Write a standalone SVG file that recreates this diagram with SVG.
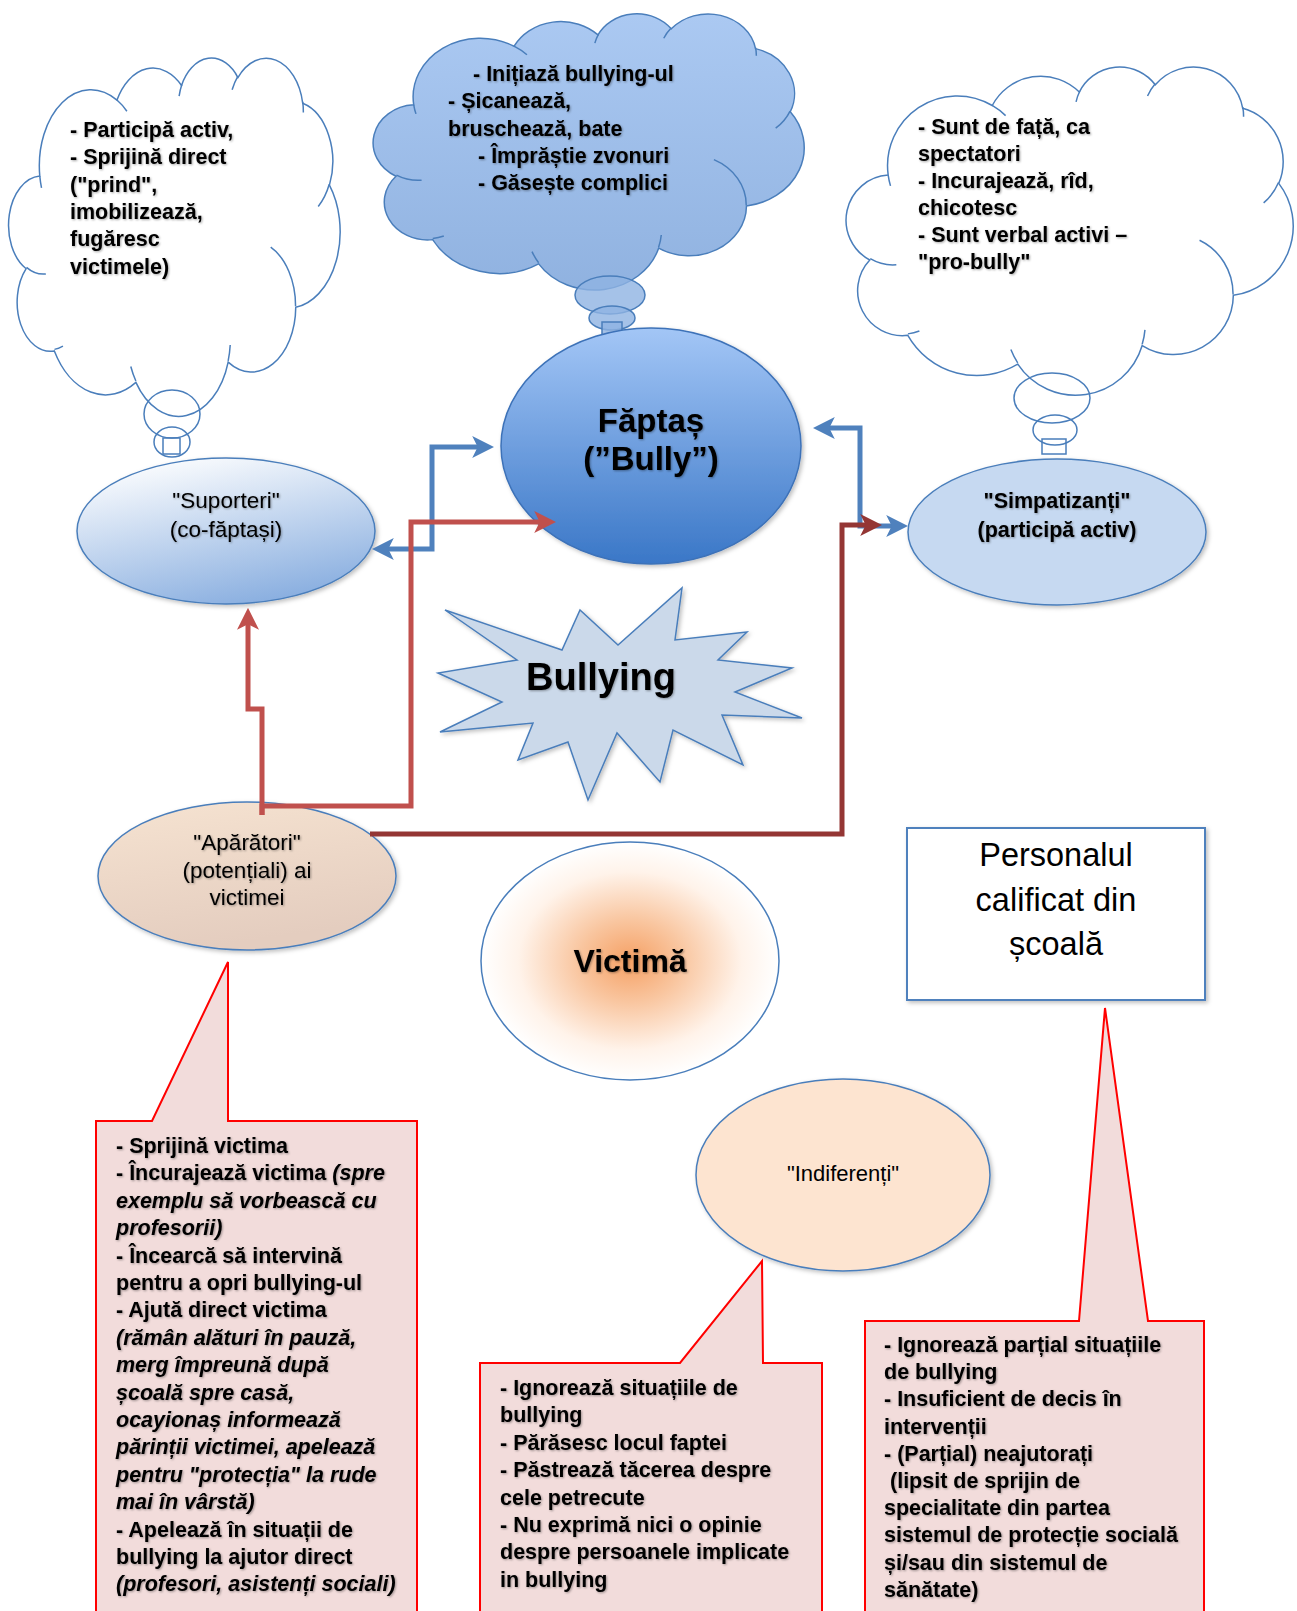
<svg xmlns="http://www.w3.org/2000/svg" xmlns:xlink="http://www.w3.org/1999/xlink" width="1297" height="1611" viewBox="0 0 1297 1611">
  <defs>
    <style>
      .t { font-family: "Liberation Sans", Arial, sans-serif; fill: #000; }
      .b { font-weight: bold; font-size: 21.5px; }
      .i { font-style: italic; }
      .lbl { font-size: 22.5px; text-anchor: middle; }
      .mid { text-anchor: middle; }
      .cloud-edge { stroke: #4a7ebb; stroke-width: 1.5; }
      .bubble { fill: none; stroke: #4a7ebb; stroke-width: 1.5; }
      .node-edge { stroke: #4a7ebb; stroke-width: 1.5; }
      .callout { fill: #f2dcdb; stroke: #ff0000; stroke-width: 2; stroke-linejoin: miter; }
      .conn { fill: none; stroke-width: 5; stroke-linejoin: miter; }
      .blue { stroke: #4f81bd; }
      .red { stroke: #c0504d; }
      .dark { stroke: #943634; }
    </style>

    <!-- cloud outline in a 1000 x 1000 box -->
    <path id="cloudOutline" vector-effect="non-scaling-stroke"
      d="M90.3,332.6 A156.3,212.7 0 0 1 324.2,120.4 A123.4,168.2 0 0 1 519.8,79.5 A101,137.6 0 0 1 690.6,57.4 A112.4,152.7 0 0 1 887,129.1 A123.4,168.4 0 0 1 968,357.9 A156.8,213.4 0 0 1 865.9,699.2 A133.9,182.1 0 0 1 661.1,852.2 A156.3,213.3 0 0 1 381.5,908.9 A178.7,244.1 0 0 1 134.4,821.1 A100.9,137 0 0 1 48.9,591.4 A100.6,137.6 0 0 1 90.3,332.6 Z"/>
    <!-- short inner arcs of the cloud -->
    <path id="cloudInner" vector-effect="non-scaling-stroke" fill="none"
      d="M108.6,605.9 A100.6,137.6 0 0 1 50,587.5 M160.4,807.8 A100.9,137 0 0 1 134.7,816.7 M381.4,904.9 A156.3,213.3 0 0 1 366,864.6 M667.3,804.4 A156.3,213.3 0 0 1 661.1,848.6 M790,531.3 A133.9,182.1 0 0 1 865.3,696.5 M967.5,355.4 A123.4,168.4 0 0 1 934,417.4 M887.1,125.6 A112.4,152.7 0 0 1 888.9,154.9 M673.1,91.5 A112.4,152.7 0 0 1 690.3,54.1 M512.5,109.3 A101,137.6 0 0 1 520.8,77.1 M324.1,120.2 A156.3,212.7 0 0 1 354.2,151.4 M95.5,365.5 A156.3,212.7 0 0 1 90.3,332.6"/>

    <linearGradient id="gTopCloud" x1="0" y1="0" x2="0" y2="1">
      <stop offset="0" stop-color="#abc9f2"/>
      <stop offset="1" stop-color="#90b2e0"/>
    </linearGradient>
    <linearGradient id="gBully" x1="0" y1="0" x2="0" y2="1">
      <stop offset="0" stop-color="#a3c6f6"/>
      <stop offset="1" stop-color="#3a77c7"/>
    </linearGradient>
    <linearGradient id="gSupport" x1="0.2" y1="0" x2="0.6" y2="1">
      <stop offset="0" stop-color="#ffffff"/>
      <stop offset="1" stop-color="#8aafe0"/>
    </linearGradient>
    <linearGradient id="gDefend" x1="0" y1="0" x2="0.3" y2="1">
      <stop offset="0" stop-color="#f6e3d1"/>
      <stop offset="1" stop-color="#e4cdbf"/>
    </linearGradient>
    <radialGradient id="gVictim" cx="0.5" cy="0.5" r="0.5">
      <stop offset="0" stop-color="#f5a064"/>
      <stop offset="0.35" stop-color="#f9c6a0"/>
      <stop offset="0.75" stop-color="#fff3ea"/>
      <stop offset="1" stop-color="#ffffff"/>
    </radialGradient>

    <filter id="shapeShadow" x="-10%" y="-10%" width="125%" height="125%">
      <feDropShadow dx="2" dy="2" stdDeviation="2" flood-color="#000" flood-opacity="0.25"/>
    </filter>
    <filter id="textShadow" x="-5%" y="-30%" width="110%" height="160%">
      <feDropShadow dx="1" dy="1" stdDeviation="0.8" flood-color="#000" flood-opacity="0.35"/>
    </filter>

    <marker id="arrowBlue" viewBox="0 0 10 10" refX="4" refY="5" markerWidth="4.4" markerHeight="4.4" orient="auto-start-reverse">
      <path d="M0,0 L10,5 L0,10 L2.5,5 Z" fill="#4f81bd"/>
    </marker>
    <marker id="arrowRed" viewBox="0 0 10 10" refX="4" refY="5" markerWidth="4.4" markerHeight="4.4" orient="auto-start-reverse">
      <path d="M0,0 L10,5 L0,10 L2.5,5 Z" fill="#c0504d"/>
    </marker>
    <marker id="arrowDark" viewBox="0 0 10 10" refX="4" refY="5" markerWidth="4.4" markerHeight="4.4" orient="auto-start-reverse">
      <path d="M0,0 L10,5 L0,10 L2.5,5 Z" fill="#943634"/>
    </marker>
  </defs>

  <rect x="0" y="0" width="1297" height="1611" fill="#ffffff"/>

  <!-- thought cloud of the supporters -->
  <g id="cloud-suporteri">
    <use xlink:href="#cloudOutline" class="cloud-edge" fill="#ffffff" transform="translate(10,57) scale(0.33,0.358)"/>
    <use xlink:href="#cloudInner" class="cloud-edge" transform="translate(10,57) scale(0.33,0.358)"/>
    <ellipse class="bubble" cx="172" cy="414" rx="28" ry="24"/>
    <ellipse class="bubble" cx="172" cy="442" rx="18" ry="15"/>
    <rect class="bubble" x="163" y="438" width="17" height="16"/>
    <g class="t b" filter="url(#textShadow)">
      <text x="70" y="137">- Participă activ,</text>
      <text x="70" y="164.3">- Sprijină direct</text>
      <text x="70" y="191.6">("prind",</text>
      <text x="70" y="218.9">imobilizează,</text>
      <text x="70" y="246.2">fugăresc</text>
      <text x="70" y="273.5">victimele)</text>
    </g>
  </g>

  <!-- thought cloud of the bully -->
  <g id="cloud-faptas">
    <use xlink:href="#cloudOutline" class="cloud-edge" fill="url(#gTopCloud)" transform="translate(375,13) scale(0.429,0.276)"/>
    <use xlink:href="#cloudInner" class="cloud-edge" transform="translate(375,13) scale(0.429,0.276)"/>
    <ellipse cx="610" cy="295" rx="35" ry="19" fill="#8fb3e2" fill-opacity="0.8" class="cloud-edge"/>
    <ellipse cx="612" cy="318" rx="23" ry="12" fill="#8fb3e2" fill-opacity="0.8" class="cloud-edge"/>
    <rect x="602" y="322" width="20" height="14" fill="#8fb3e2" fill-opacity="0.8" class="cloud-edge"/>
    <g class="t b" filter="url(#textShadow)">
      <text x="473" y="81">- Inițiază bullying-ul</text>
      <text x="448" y="108">- Șicanează,</text>
      <text x="448" y="136">bruschează, bate</text>
      <text x="478" y="163">- Împrăștie zvonuri</text>
      <text x="478" y="190">- Găsește complici</text>
    </g>
  </g>

  <!-- thought cloud of the sympathisers -->
  <g id="cloud-simpatizanti">
    <use xlink:href="#cloudOutline" class="cloud-edge" fill="#ffffff" transform="translate(848,66) scale(0.445,0.328)"/>
    <use xlink:href="#cloudInner" class="cloud-edge" transform="translate(848,66) scale(0.445,0.328)"/>
    <ellipse class="bubble" cx="1052" cy="398" rx="38" ry="25"/>
    <ellipse class="bubble" cx="1055" cy="430" rx="22" ry="15"/>
    <rect class="bubble" x="1042" y="439" width="24" height="15"/>
    <g class="t b" filter="url(#textShadow)">
      <text x="918" y="134">- Sunt de față, ca</text>
      <text x="918" y="161">spectatori</text>
      <text x="918" y="188">- Incurajează, rîd,</text>
      <text x="918" y="215">chicotesc</text>
      <text x="918" y="242">- Sunt verbal activi –</text>
      <text x="918" y="269">"pro-bully"</text>
    </g>
  </g>

  <g id="node-faptas">
    <ellipse cx="651" cy="446" rx="150" ry="118" fill="url(#gBully)" stroke="#3d72b8" stroke-width="1.5" filter="url(#shapeShadow)"/>
    <g class="t mid" font-weight="bold" font-size="33" filter="url(#textShadow)">
      <text x="651" y="432">Făptaș</text>
      <text x="651" y="470">(”Bully”)</text>
    </g>
  </g>

  <g id="node-suporteri">
    <ellipse cx="226" cy="531" rx="149" ry="73" fill="url(#gSupport)" class="node-edge" filter="url(#shapeShadow)"/>
    <g class="t lbl" filter="url(#textShadow)">
      <text x="226" y="508">"Suporteri"</text>
      <text x="226" y="537">(co-făptași)</text>
    </g>
  </g>

  <g id="node-simpatizanti">
    <ellipse cx="1057" cy="532" rx="149" ry="73" fill="#c6d9f1" class="node-edge" filter="url(#shapeShadow)"/>
    <g class="t mid" font-weight="bold" font-size="21.5" filter="url(#textShadow)">
      <text x="1057" y="508">"Simpatizanți"</text>
      <text x="1057" y="537">(participă activ)</text>
    </g>
  </g>

  <g id="node-bullying">
    <polygon points="445,610 562,650 580,610 618,645 682,588 675,640 747,632 718,660 792,668 735,692 802,718 722,715 743,765 673,730 660,782 617,733 588,800 568,742 518,760 533,723 440,732 502,702 438,673 517,660"
      fill="#cbd9ea" stroke="#4a7ebb" stroke-width="1.5" stroke-linejoin="miter" filter="url(#shapeShadow)"/>
    <text class="t mid" x="601" y="690" font-weight="bold" font-size="38" filter="url(#textShadow)">Bullying</text>
  </g>

  <g id="node-aparatori">
    <ellipse cx="247" cy="876" rx="149" ry="74" fill="url(#gDefend)" class="node-edge" filter="url(#shapeShadow)"/>
    <g class="t lbl" filter="url(#textShadow)">
      <text x="247" y="850">"Apărători"</text>
      <text x="247" y="878">(potențiali) ai</text>
      <text x="247" y="905">victimei</text>
    </g>
  </g>

  <g id="node-victima">
    <ellipse cx="630" cy="961" rx="149" ry="119" fill="url(#gVictim)" class="node-edge"/>
    <text class="t mid" x="630" y="972" font-weight="bold" font-size="32" filter="url(#textShadow)">Victimă</text>
  </g>

  <g id="node-personal">
    <rect x="907" y="828" width="298" height="172" fill="#ffffff" stroke="#4f81bd" stroke-width="2" filter="url(#shapeShadow)"/>
    <g class="t mid" font-size="32.5">
      <text x="1056" y="866">Personalul</text>
      <text x="1056" y="911">calificat din</text>
      <text x="1056" y="955">școală</text>
    </g>
  </g>

  <g id="node-indiferenti">
    <ellipse cx="843" cy="1175" rx="147" ry="96" fill="#fde4d0" class="node-edge" filter="url(#shapeShadow)"/>
    <text class="t mid" x="843" y="1181" font-size="22">"Indiferenți"</text>
  </g>

  <!-- callout describing the defenders -->
  <g id="callout-aparatori">
    <path class="callout" d="M96,1121 H152 L228,962 V1121 H417 V1616 H96 Z"/>
    <g class="t b" filter="url(#textShadow)">
      <text x="116" y="1153">- Sprijină victima</text>
      <text x="116" y="1180.4">- Încurajează victima <tspan class="i">(spre</tspan></text>
      <text x="116" y="1207.8" class="i">exemplu să vorbească cu</text>
      <text x="116" y="1235.2" class="i">profesorii)</text>
      <text x="116" y="1262.6">- Încearcă să intervină</text>
      <text x="116" y="1290">pentru a opri bullying-ul</text>
      <text x="116" y="1317.4">- Ajută direct victima</text>
      <text x="116" y="1344.8" class="i">(rămân alături în pauză,</text>
      <text x="116" y="1372.2" class="i">merg împreună după</text>
      <text x="116" y="1399.6" class="i">școală spre casă,</text>
      <text x="116" y="1427" class="i">ocayionaș informează</text>
      <text x="116" y="1454.4" class="i">părinții victimei, apelează</text>
      <text x="116" y="1481.8" class="i">pentru "protecția" la rude</text>
      <text x="116" y="1509.2" class="i">mai în vârstă)</text>
      <text x="116" y="1536.6">- Apelează în situații de</text>
      <text x="116" y="1564">bullying la ajutor direct</text>
      <text x="116" y="1591.4" class="i">(profesori, asistenți sociali)</text>
    </g>
  </g>

  <!-- callout describing the indifferent ones -->
  <g id="callout-indiferenti">
    <path class="callout" d="M480,1363 H680 L762,1261 L763,1363 H822 V1616 H480 Z"/>
    <g class="t b" filter="url(#textShadow)">
      <text x="500" y="1395">- Ignorează situațiile de</text>
      <text x="500" y="1422.4">bullying</text>
      <text x="500" y="1449.8">- Părăsesc locul faptei</text>
      <text x="500" y="1477.2">- Păstrează tăcerea despre</text>
      <text x="500" y="1504.6">cele petrecute</text>
      <text x="500" y="1532">- Nu exprimă nici o opinie</text>
      <text x="500" y="1559.4">despre persoanele implicate</text>
      <text x="500" y="1586.8">in bullying</text>
    </g>
  </g>

  <!-- callout describing the school staff -->
  <g id="callout-personal">
    <path class="callout" d="M865,1321 H1079 L1105,1008 L1148,1321 H1204 V1616 H865 Z"/>
    <g class="t b" filter="url(#textShadow)">
      <text x="884" y="1352">- Ignorează parțial situațiile</text>
      <text x="884" y="1379.2">de bullying</text>
      <text x="884" y="1406.4">- Insuficient de decis în</text>
      <text x="884" y="1433.6">intervenții</text>
      <text x="884" y="1460.8">- (Parțial) neajutorați</text>
      <text x="890" y="1488">(lipsit de sprijin de</text>
      <text x="884" y="1515.2">specialitate din partea</text>
      <text x="884" y="1542.4">sistemul de protecție socială</text>
      <text x="884" y="1569.6">și/sau din sistemul de</text>
      <text x="884" y="1596.8">sănătate)</text>
    </g>
  </g>

  <!-- elbow connectors between the roles -->
  <g id="connectors">
    <path class="conn blue" d="M385,549 H432 V447 H481" marker-start="url(#arrowBlue)" marker-end="url(#arrowBlue)"/>
    <path class="conn blue" d="M826,428 H860 V526 H895" marker-start="url(#arrowBlue)" marker-end="url(#arrowBlue)"/>
    <path class="conn red" d="M262,815 V709 H248 V621" marker-end="url(#arrowRed)"/>
    <path class="conn red" d="M262,815 V806 H411 V522 H543" marker-end="url(#arrowRed)"/>
    <path class="conn dark" d="M370,834 H842 V525 H869" marker-end="url(#arrowDark)"/>
  </g>
</svg>
